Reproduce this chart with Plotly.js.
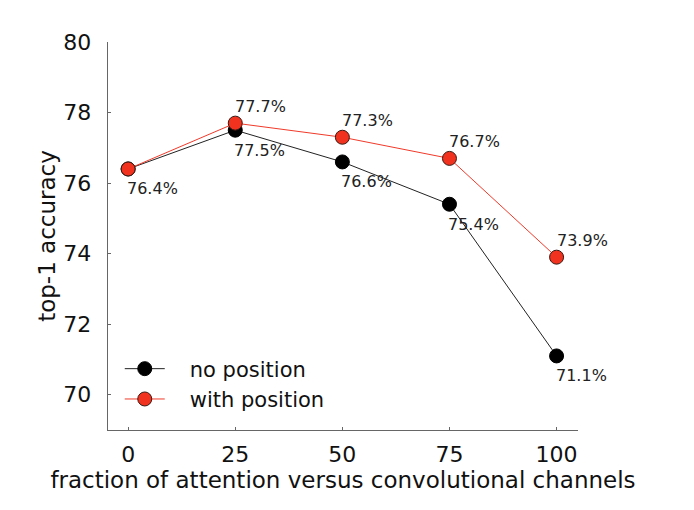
<!DOCTYPE html>
<html><head><meta charset="utf-8">
<script src="https://cdn.plot.ly/plotly-3.0.1.min.js"></script>
<style>html,body{margin:0;padding:0;background:#fff}</style>
</head><body><div id="chart" style="width:694px;height:510px"></div>
<script>
const fractions = [0, 25, 50, 75, 100];
const noPosition = [76.4, 77.5, 76.6, 75.4, 71.1];
const withPosition = [76.4, 77.7, 77.3, 76.7, 73.9];
const noPosLabels = ["76.4%", "77.5%", "76.6%", "75.4%", "71.1%"];
const withPosLabels = ["", "77.7%", "77.3%", "76.7%", "73.9%"];
const yTicks = [70, 72, 74, 76, 78, 80];
const xTicks = [0, 25, 50, 75, 100];

const font = "DejaVu Sans, sans-serif";
const pad = "\u00a0\u00a0\u00a0";
const traces = [
  {x: fractions, y: noPosition, name: pad + "no position", mode: "lines+markers",
   line: {color: "#222222", width: 1},
   marker: {color: "#000000", size: 14, line: {color: "#000000", width: 1}}},
  {x: fractions, y: withPosition, name: pad + "with position", mode: "lines+markers",
   line: {color: "#f03a2a", width: 1},
   marker: {color: "#f0321e", size: 14, line: {color: "#3a1a14", width: 1}}}
];
const annotations = [];
fractions.forEach((f, i) => {
  if (noPosLabels[i]) annotations.push({x: f, y: noPosition[i], text: noPosLabels[i], showarrow: false,
    xanchor: "left", yanchor: "middle", xshift: -3, yshift: -20, font: {family: font, size: 16, color: "#222"}});
  if (withPosLabels[i]) annotations.push({x: f, y: withPosition[i], text: withPosLabels[i], showarrow: false,
    xanchor: "left", yanchor: "middle", xshift: -2, yshift: 17, font: {family: font, size: 16, color: "#222"}});
});
const layout = {
  width: 694, height: 510,
  margin: {l: 108, r: 116, t: 42, b: 80, pad: 0},
  paper_bgcolor: "#fff", plot_bgcolor: "#fff",
  font: {family: font, color: "#111"},
  showlegend: true,
  legend: {x: 0.025, y: 0.21, xanchor: "left", yanchor: "top", bgcolor: "rgba(0,0,0,0)",
           font: {family: font, size: 21, color: "#111"}, itemwidth: 40, tracegroupgap: 0},
  xaxis: {range: [-4.7, 105], tickvals: xTicks, ticktext: xTicks.map(String), ticks: "inside", ticklen: 3,
          tickcolor: "#666", showline: true, linecolor: "#666", linewidth: 1.3, mirror: false,
          showgrid: false, zeroline: false, tickfont: {family: font, size: 22, color: "#111"},
          ticklabelstandoff: 4,
          title: {text: "fraction of attention versus convolutional channels", font: {family: font, size: 23, color: "#111"}, standoff: 2}},
  yaxis: {range: [69, 80], tickvals: yTicks, ticks: "inside", ticklen: 3, tickcolor: "#666",
          showline: true, linecolor: "#666", linewidth: 1.3, showgrid: false, zeroline: false,
          tickfont: {family: font, size: 22, color: "#111"}, ticklabelstandoff: 11,
          title: {text: "top-1 accuracy", font: {family: font, size: 23, color: "#111"}, standoff: 1}},
  annotations: annotations
};
Plotly.newPlot("chart", traces, layout, {displayModeBar: false, staticPlot: true});
</script></body></html>
